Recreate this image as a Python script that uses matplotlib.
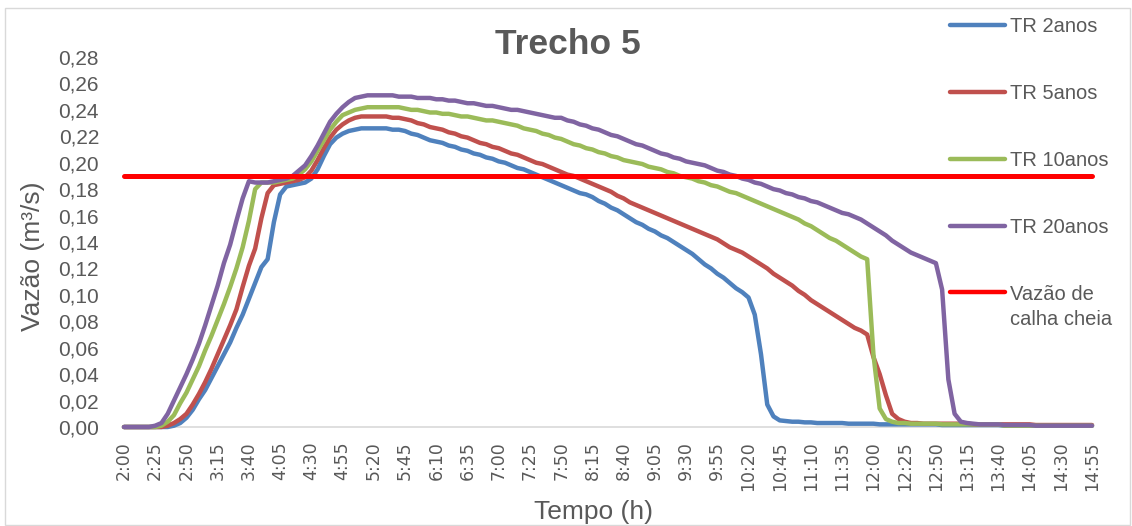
import matplotlib
matplotlib.use("Agg")
import matplotlib.pyplot as plt
from matplotlib.patches import Rectangle
from matplotlib.legend_handler import HandlerLine2D
import numpy as np

plt.rcParams['font.family'] = ['Liberation Sans', 'DejaVu Sans']

# ---- categories: time every 5 minutes from 2:00 to 14:55 ----
start_min, step_min, n_points = 120, 5, 156
times = [f"{(start_min + k*step_min)//60}:{(start_min + k*step_min) % 60:02d}" for k in range(n_points)]
tick_every = 5

# ---- series (m3/s) ----
tr2 = [0, 0, 0, 0, 0, 0, 0, 0, 0.001, 0.003,
       0.007, 0.013, 0.021, 0.028, 0.037, 0.046, 0.055, 0.064, 0.075, 0.085,
       0.097, 0.109, 0.121, 0.127, 0.155, 0.176, 0.182, 0.183, 0.184, 0.185,
       0.188, 0.195, 0.205, 0.214, 0.219, 0.222, 0.224, 0.225, 0.226, 0.226,
       0.226, 0.226, 0.226, 0.225, 0.225, 0.224, 0.222, 0.221, 0.219, 0.217,
       0.216, 0.215, 0.213, 0.212, 0.210, 0.209, 0.207, 0.206, 0.204, 0.203,
       0.201, 0.200, 0.198, 0.196, 0.195, 0.193, 0.191, 0.189, 0.187, 0.185,
       0.183, 0.181, 0.179, 0.177, 0.176, 0.174, 0.171, 0.169, 0.166, 0.164,
       0.161, 0.158, 0.155, 0.153, 0.150, 0.148, 0.145, 0.143, 0.140, 0.137,
       0.134, 0.131, 0.127, 0.123, 0.120, 0.116, 0.113, 0.109, 0.105, 0.102,
       0.098, 0.085, 0.055, 0.017, 0.008, 0.005, 0.0045, 0.004, 0.004, 0.0035,
       0.0035, 0.003, 0.003, 0.003, 0.003, 0.003, 0.0025, 0.0025, 0.0025, 0.0025,
       0.0025, 0.002, 0.002, 0.002, 0.002, 0.002, 0.002, 0.002, 0.002, 0.002,
       0.002, 0.0015, 0.0015, 0.0015, 0.0015, 0.0015, 0.0015, 0.0015, 0.0015, 0.0015,
       0.0015, 0.001, 0.001, 0.001, 0.001, 0.001, 0.001, 0.001, 0.001, 0.001,
       0.001, 0.001, 0.001, 0.001, 0.001, 0.001]

tr5 = [0, 0, 0, 0, 0, 0, 0, 0.001, 0.003, 0.006,
       0.010, 0.017, 0.025, 0.034, 0.044, 0.055, 0.066, 0.077, 0.089, 0.106,
       0.122, 0.135, 0.158, 0.177, 0.183, 0.184, 0.185, 0.186, 0.187, 0.189,
       0.194, 0.202, 0.211, 0.219, 0.225, 0.229, 0.232, 0.234, 0.235, 0.235,
       0.235, 0.235, 0.235, 0.234, 0.234, 0.233, 0.232, 0.230, 0.229, 0.227,
       0.226, 0.225, 0.223, 0.222, 0.220, 0.219, 0.217, 0.215, 0.214, 0.212,
       0.211, 0.209, 0.207, 0.206, 0.204, 0.202, 0.200, 0.199, 0.197, 0.195,
       0.193, 0.191, 0.190, 0.188, 0.186, 0.184, 0.182, 0.180, 0.178, 0.175,
       0.173, 0.170, 0.168, 0.166, 0.164, 0.162, 0.160, 0.158, 0.156, 0.154,
       0.152, 0.150, 0.148, 0.146, 0.144, 0.142, 0.139, 0.136, 0.134, 0.132,
       0.129, 0.126, 0.123, 0.120, 0.116, 0.113, 0.110, 0.107, 0.103, 0.100,
       0.096, 0.093, 0.090, 0.087, 0.084, 0.081, 0.078, 0.075, 0.073, 0.070,
       0.053, 0.040, 0.024, 0.010, 0.006, 0.004, 0.003, 0.003, 0.0025, 0.0025,
       0.0025, 0.0025, 0.0025, 0.0025, 0.0025, 0.0025, 0.002, 0.002, 0.002, 0.002,
       0.002, 0.002, 0.002, 0.002, 0.002, 0.002, 0.0015, 0.0015, 0.0015, 0.0015,
       0.0015, 0.0015, 0.0015, 0.0015, 0.0015, 0.0015]

tr10 = [0, 0, 0, 0, 0, 0, 0.001, 0.004, 0.009, 0.018,
        0.026, 0.036, 0.046, 0.058, 0.069, 0.081, 0.093, 0.106, 0.120, 0.136,
        0.156, 0.180, 0.185, 0.185, 0.185, 0.186, 0.187, 0.188, 0.191, 0.195,
        0.201, 0.209, 0.217, 0.225, 0.231, 0.236, 0.238, 0.240, 0.241, 0.242,
        0.242, 0.242, 0.242, 0.242, 0.242, 0.241, 0.240, 0.240, 0.239, 0.238,
        0.238, 0.237, 0.237, 0.236, 0.235, 0.235, 0.234, 0.233, 0.232, 0.232,
        0.231, 0.230, 0.229, 0.228, 0.226, 0.225, 0.224, 0.222, 0.221, 0.219,
        0.218, 0.216, 0.214, 0.213, 0.211, 0.210, 0.208, 0.207, 0.205, 0.204,
        0.202, 0.201, 0.200, 0.199, 0.197, 0.196, 0.195, 0.193, 0.192, 0.190,
        0.189, 0.188, 0.186, 0.185, 0.183, 0.182, 0.180, 0.178, 0.177, 0.175,
        0.173, 0.171, 0.169, 0.167, 0.165, 0.163, 0.161, 0.159, 0.157, 0.154,
        0.152, 0.149, 0.146, 0.143, 0.141, 0.138, 0.135, 0.132, 0.129, 0.127,
        0.055, 0.014, 0.006, 0.004, 0.003, 0.003, 0.0025, 0.0025, 0.0025, 0.0025,
        0.0025, 0.002, 0.002, 0.002, 0.002, 0.002, 0.002, 0.002, 0.002, 0.002,
        0.002, 0.001, 0.001, 0.001, 0.001, 0.001, 0.001, 0.001, 0.001, 0.001,
        0.001, 0.001, 0.001, 0.001, 0.001, 0.001]

tr20 = [0, 0, 0, 0, 0, 0.001, 0.003, 0.010, 0.020, 0.030,
        0.040, 0.051, 0.063, 0.077, 0.092, 0.107, 0.124, 0.138, 0.156, 0.173,
        0.186, 0.185, 0.185, 0.185, 0.186, 0.187, 0.188, 0.190, 0.194, 0.198,
        0.205, 0.213, 0.222, 0.231, 0.237, 0.242, 0.246, 0.249, 0.250, 0.251,
        0.251, 0.251, 0.251, 0.251, 0.250, 0.250, 0.250, 0.249, 0.249, 0.249,
        0.248, 0.248, 0.247, 0.247, 0.246, 0.245, 0.245, 0.244, 0.243, 0.243,
        0.242, 0.241, 0.240, 0.240, 0.239, 0.238, 0.237, 0.236, 0.235, 0.234,
        0.234, 0.232, 0.231, 0.229, 0.228, 0.226, 0.225, 0.223, 0.221, 0.220,
        0.218, 0.216, 0.214, 0.213, 0.211, 0.209, 0.207, 0.206, 0.204, 0.203,
        0.201, 0.200, 0.199, 0.198, 0.196, 0.194, 0.193, 0.191, 0.190, 0.188,
        0.187, 0.185, 0.184, 0.182, 0.180, 0.179, 0.177, 0.176, 0.174, 0.173,
        0.171, 0.170, 0.168, 0.166, 0.164, 0.162, 0.161, 0.159, 0.157, 0.154,
        0.151, 0.148, 0.145, 0.141, 0.138, 0.135, 0.132, 0.130, 0.128, 0.126,
        0.124, 0.104, 0.036, 0.010, 0.004, 0.003, 0.0025, 0.002, 0.002, 0.002,
        0.002, 0.0015, 0.0015, 0.0015, 0.0015, 0.0015, 0.001, 0.001, 0.001, 0.001,
        0.001, 0.001, 0.001, 0.001, 0.001, 0.001]

calha_cheia = 0.19  # full-channel discharge (constant series)

series_labels = ["TR 2anos", "TR 5anos", "TR 10anos", "TR 20anos", "Vazão de\ncalha cheia"]
series_colors = ["#4F81BD", "#C0504D", "#9BBB59", "#8064A2", "#FF0000"]

y_ticks = [0.00, 0.02, 0.04, 0.06, 0.08, 0.10, 0.12, 0.14, 0.16, 0.18, 0.20, 0.22, 0.24, 0.26, 0.28]


class FirstLineHandler(HandlerLine2D):
    """Legend line aligned with the first line of a two-line label."""
    def __init__(self, shift, **kw):
        super().__init__(**kw)
        self.shift = shift

    def create_artists(self, legend, orig_handle, xdescent, ydescent, width,
                       height, fontsize, trans):
        arts = super().create_artists(legend, orig_handle, xdescent, ydescent,
                                      width, height, fontsize, trans)
        for a in arts:
            a.set_ydata(np.asarray(a.get_ydata()) + self.shift)
        return arts


# ---- figure ----
W, H = 1132, 526
fig = plt.figure(figsize=(W/100, H/100), dpi=100)
fig.patch.set_facecolor("white")
fig.patches.append(Rectangle((5/W, 1/H), (W-7)/W, (H-9)/H, transform=fig.transFigure,
                             fill=False, edgecolor="#D9D9D9", linewidth=1.0))

ax_l, ax_r, ax_t, ax_b = 124, 1092, 57, 427
ax = fig.add_axes([ax_l/W, 1-ax_b/H, (ax_r-ax_l)/W, (ax_b-ax_t)/H])

x = np.arange(n_points)
handles = []
for vals, lab, col in zip([tr2, tr5, tr10, tr20], series_labels[:4], series_colors[:4]):
    h, = ax.plot(x, vals, color=col, lw=3.2, label=lab, solid_capstyle="round",
                 solid_joinstyle="round", clip_on=False)
    handles.append(h)
h_cc, = ax.plot(x, np.full(n_points, calha_cheia), color=series_colors[4], lw=3.6,
                label=series_labels[4], solid_capstyle="round", clip_on=False)
handles.append(h_cc)

ax.set_xlim(0, n_points-1)
ax.set_ylim(0, 0.28)
for s in ["top", "right", "left"]:
    ax.spines[s].set_visible(False)
ax.spines["bottom"].set_color("#D9D9D9")
ax.spines["bottom"].set_linewidth(1.2)
ax.spines["bottom"].set_zorder(0)

ax.set_yticks(y_ticks)
ax.set_yticklabels([f"{v:.2f}".replace(".", ",") for v in y_ticks])
ax.set_xticks(x[::tick_every])
ax.set_xticklabels(times[::tick_every], rotation=90, family=["DejaVu Sans"])
ax.tick_params(axis="y", length=0, pad=18, labelsize=15, labelcolor="#595959")
ax.tick_params(axis="x", length=0, pad=10, labelsize=12.5, labelcolor="#595959")

ax.set_ylabel("Vazão (m³/s)", fontsize=19, color="#595959")
ax.yaxis.set_label_coords(-0.0935, 0.462)
ax.yaxis.label.set_va("center")
ax.set_xlabel("Tempo (h)", fontsize=19, color="#595959")
ax.xaxis.set_label_coords((593-ax_l)/(ax_r-ax_l), -(512-ax_b)/(ax_b-ax_t))
ax.xaxis.label.set_va("center")

fig.text(568/W, 1-45/H, "Trecho 5", fontsize=25.5, fontweight="bold",
         color="#595959", ha="center", va="center")

leg = ax.legend(handles=handles, loc="upper left", bbox_to_anchor=(950/W, 1-17/H),
                bbox_transform=fig.transFigure, frameon=False, fontsize=14.5,
                handlelength=2.75, handletextpad=0.25, labelspacing=2.38,
                borderpad=0, borderaxespad=0,
                handler_map={h_cc: FirstLineHandler(shift=11)})
for t in leg.get_texts():
    t.set_color("#595959")
leg.get_texts()[-1].set_linespacing(1.45)
for h in leg.legend_handles:
    h.set_linewidth(3.2)

fig.savefig("out.png", dpi=100, facecolor="white")
